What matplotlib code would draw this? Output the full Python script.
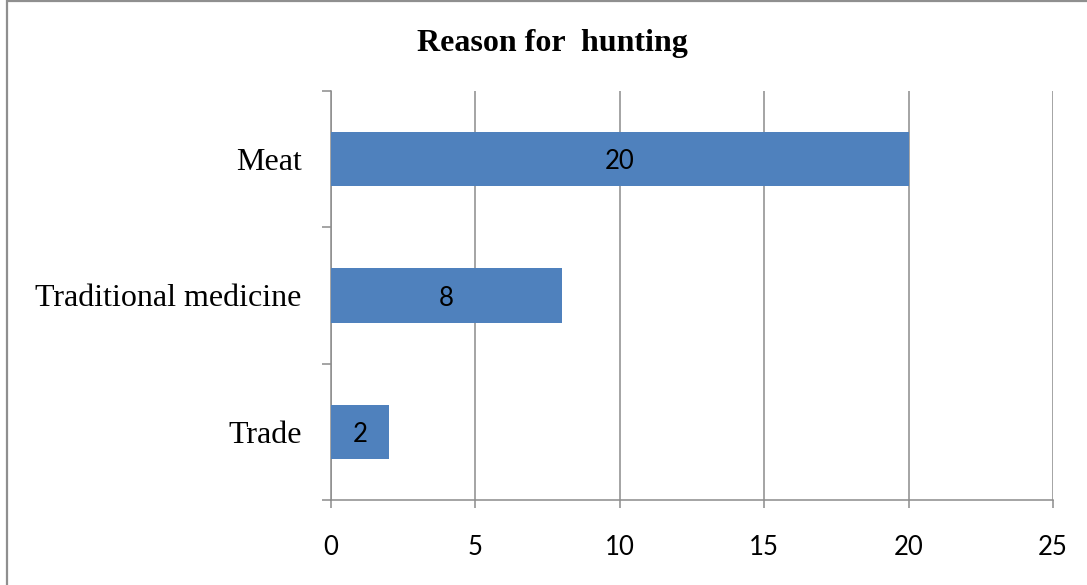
import matplotlib
matplotlib.use('Agg')
import matplotlib.pyplot as plt
from matplotlib.patches import Rectangle
from matplotlib.ticker import FixedLocator

# hunting reasons, bottom to top
reasons = ['Trade', 'Traditional medicine', 'Meat']
counts = [2, 8, 20]
x_ticks = [0, 5, 10, 15, 20, 25]

bar_color = '#4F81BD'
grid_color = '#8C8C8C'

fig = plt.figure(figsize=(10.87, 5.85), dpi=100)
ax = fig.add_axes([331/1087, 1 - 500/585, 722/1087, 409/585])

# outer frame of the chart area
fig.patches.append(Rectangle((7/1087, -0.1), 1.2, 1 - 1.5/585 + 0.1,
                             transform=fig.transFigure, fill=False,
                             edgecolor='#8F8F8F', linewidth=1.6))

ypos = list(range(len(reasons)))
bars = ax.barh(ypos, counts, height=0.4, color=bar_color, zorder=3)
for b, v in zip(bars, counts):
    ax.text(v / 2, b.get_y() + b.get_height() / 2, str(v),
            ha='center', va='center_baseline', fontsize=18.5, family='Lato',
            color='black', zorder=4)

ax.set_xlim(0, 25)
ax.set_ylim(-0.5, len(reasons) - 0.5)
ax.set_xticks(x_ticks)
ax.set_xticklabels([str(t) for t in x_ticks], fontsize=18.5, family='Lato')
ax.set_yticks(ypos)
ax.set_yticklabels(reasons, fontsize=23, family='Liberation Serif')
ax.yaxis.set_minor_locator(FixedLocator([-0.5, 0.5, 1.5, 2.5]))

ax.tick_params(axis='y', which='major', length=0, pad=21)
ax.tick_params(axis='y', which='minor', length=6.5, width=1.1, color=grid_color)
ax.tick_params(axis='x', which='major', length=6, width=1.1, color=grid_color, pad=19.5)

ax.grid(axis='x', color=grid_color, linewidth=1.1, zorder=0)
ax.set_axisbelow(True)
for side in ['top', 'right']:
    ax.spines[side].set_visible(False)
for side in ['left', 'bottom']:
    ax.spines[side].set_color(grid_color)
    ax.spines[side].set_linewidth(1.1)

fig.text(552/1087, 1 - 43/585, 'Reason for  hunting', ha='center', va='center',
         fontsize=23, fontweight='bold', family='Liberation Serif')

fig.savefig('out.png', dpi=100)
